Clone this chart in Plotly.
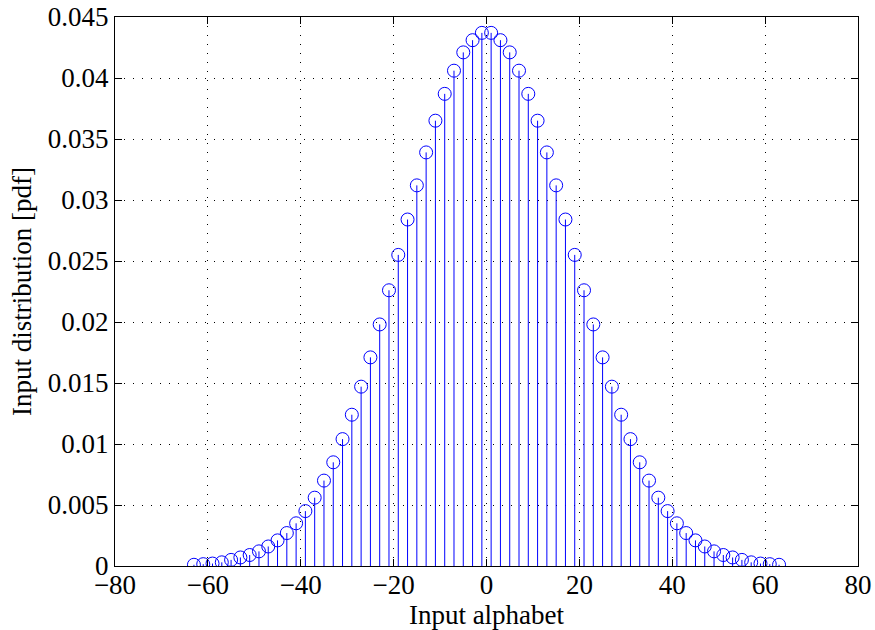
import plotly.graph_objects as go

# Input alphabet (odd integers -63..63)
x_vals = [-63, -61, -59, -57, -55, -53, -51, -49, -47, -45, -43, -41, -39, -37, -35, -33,
          -31, -29, -27, -25, -23, -21, -19, -17, -15, -13, -11, -9, -7, -5, -3, -1,
          1, 3, 5, 7, 9, 11, 13, 15, 17, 19, 21, 23, 25, 27, 29, 31,
          33, 35, 37, 39, 41, 43, 45, 47, 49, 51, 53, 55, 57, 59, 61, 63]

# Input distribution (pdf)
pdf_vals = [0.0001, 0.00015, 0.0002, 0.0003, 0.0005, 0.0007, 0.0009, 0.0012,
            0.0016, 0.0021, 0.0027, 0.0035, 0.0045, 0.0056, 0.0070, 0.0085,
            0.0104, 0.0124, 0.0147, 0.0171, 0.0198, 0.0226, 0.0255, 0.0284,
            0.0312, 0.0339, 0.0365, 0.0387, 0.0406, 0.0421, 0.0431, 0.0437,
            0.0437, 0.0431, 0.0421, 0.0406, 0.0387, 0.0365, 0.0339, 0.0312,
            0.0284, 0.0255, 0.0226, 0.0198, 0.0171, 0.0147, 0.0124, 0.0104,
            0.0085, 0.0070, 0.0056, 0.0045, 0.0035, 0.0027, 0.0021, 0.0016,
            0.0012, 0.0009, 0.0007, 0.0005, 0.0003, 0.0002, 0.00015, 0.0001]

x_ticks = [-80, -60, -40, -20, 0, 20, 40, 60, 80]
y_ticks = [0, 0.005, 0.01, 0.015, 0.02, 0.025, 0.03, 0.035, 0.04, 0.045]
y_ticktext = ["0", "0.005", "0.01", "0.015", "0.02", "0.025", "0.03", "0.035", "0.04", "0.045"]

BLUE = "#0000ff"
FONT = "Liberation Serif, Times New Roman, serif"
FS = 27

stem_x, stem_y = [], []
for xv, yv in zip(x_vals, pdf_vals):
    stem_x += [xv, xv, None]
    stem_y += [0, yv, None]

fig = go.Figure()
fig.add_trace(go.Scatter(x=stem_x, y=stem_y, mode="lines",
                         line=dict(color=BLUE, width=1), hoverinfo="skip",
                         showlegend=False))
fig.add_trace(go.Scatter(x=x_vals, y=pdf_vals, mode="markers",
                         marker=dict(symbol="circle-open", size=13,
                                     color=BLUE, line=dict(width=1, color=BLUE)),
                         showlegend=False))

axis_common = dict(
    showline=True, linecolor="black", linewidth=1, mirror="ticks",
    ticks="inside", ticklen=7, tickcolor="black", tickwidth=1,
    showgrid=True, gridcolor="black", gridwidth=1, griddash="1px,8px",
    zeroline=False, automargin=False,
    tickfont=dict(family=FONT, size=FS, color="black"),
)

fig.update_xaxes(range=[-80, 80], tickvals=x_ticks, ticklabelstandoff=-5,
                 title=dict(text="Input alphabet", font=dict(family=FONT, size=FS, color="black"),
                            standoff=0),
                 **axis_common)
fig.update_yaxes(range=[0, 0.045], tickvals=y_ticks, ticktext=y_ticktext,
                 title=dict(text="Input distribution [pdf]", font=dict(family=FONT, size=FS, color="black"),
                            standoff=8),
                 **axis_common)

fig.update_layout(
    width=875, height=630,
    margin=dict(l=115, r=17, t=17, b=64),
    paper_bgcolor="white", plot_bgcolor="white",
    font=dict(family=FONT, color="black"),
)

fig.write_html("out.html")
